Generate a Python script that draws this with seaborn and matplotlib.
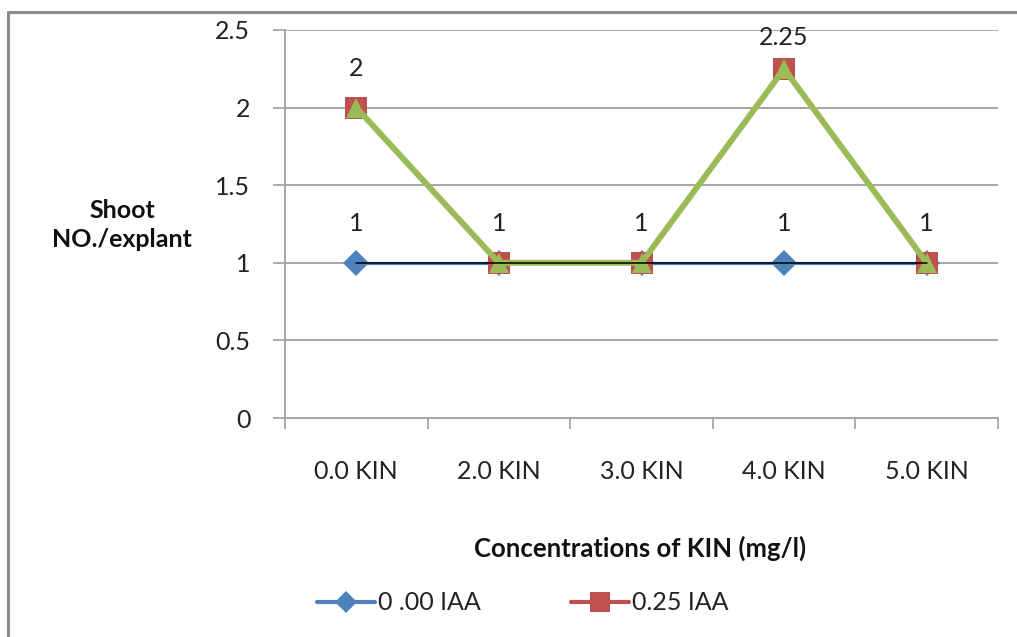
import matplotlib
matplotlib.use("Agg")
import matplotlib.pyplot as plt
import seaborn as sns
import pandas as pd
import numpy as np
from matplotlib.lines import Line2D

categories = ["0.0 KIN", "2.0 KIN", "3.0 KIN", "4.0 KIN", "5.0 KIN"]
iaa_000 = [1, 1, 1, 1, 1]
iaa_025 = [2, 1, 1, 2.25, 1]
overlay = [2, 1, 1, 2.25, 1]
baseline = [1, 1, 1, 1, 1]
y_ticks = [0, 0.5, 1, 1.5, 2, 2.5]
y_tick_labels = ["0", "0.5", "1", "1.5", "2", "2.5"]
series_names = ["0 .00 IAA", "0.25 IAA"]

BLUE = "#4F81BD"
RED = "#C0504D"
GREEN = "#9BBB59"
GRID = "#A6A6A6"
TXT = "#222222"
FS = 18

sns.set_theme(style="white")
plt.rcParams["font.family"] = ["Lato", "DejaVu Sans"]

df = pd.DataFrame({"cat": categories, "a": iaa_000, "b": iaa_025,
                   "g": overlay, "k": baseline})

fig = plt.figure(figsize=(10.17, 6.37), dpi=100)
ax = fig.add_axes([285 / 1017, 1 - 418 / 637, (998 - 285) / 1017, (418 - 30) / 637])

sns.lineplot(data=df, x="cat", y="a", ax=ax, color=BLUE, lw=2.3, marker="D",
             markersize=13, markeredgewidth=0, sort=False, zorder=2, legend=False)
sns.lineplot(data=df, x="cat", y="b", ax=ax, color=RED, lw=3, marker="s",
             markersize=16, markeredgewidth=0, sort=False, zorder=3, legend=False)
sns.lineplot(data=df, x="cat", y="g", ax=ax, color=GREEN, lw=4.3, marker="^",
             markersize=14, markeredgewidth=0, sort=False, zorder=4, legend=False)
sns.lineplot(data=df, x="cat", y="k", ax=ax, color="black", lw=1.1,
             sort=False, zorder=5, legend=False)

# data labels
for i, v in enumerate(iaa_025):
    ax.annotate(f"{v:g}", (i, min(v + 0.25, 2.45)), ha="center", va="center",
                fontsize=FS, color=TXT, annotation_clip=False)
for i, (va_, vb) in enumerate(zip(iaa_000, iaa_025)):
    if va_ != vb:
        ax.annotate(f"{va_:g}", (i, va_ + 0.25), ha="center", va="center",
                    fontsize=FS, color=TXT, annotation_clip=False)

n = len(categories)
ax.set_xlim(-0.5, n - 0.5)
ax.set_ylim(0, 2.5)
ax.set_yticks(y_ticks)
ax.set_yticklabels(y_tick_labels)
ax.set_xticks(range(n))
ax.set_xticklabels(categories)
ax.set_xticks(np.arange(-0.5, n, 1.0), minor=True)
ax.tick_params(axis="x", which="major", length=0, pad=30, labelsize=FS,
               labelcolor=TXT)
ax.tick_params(axis="x", which="minor", length=8, width=1.3, color=GRID,
               direction="out", bottom=True)
ax.tick_params(axis="y", which="major", length=9, width=1.3, color=GRID,
               direction="out", left=True, pad=16, labelsize=FS,
               labelcolor=TXT)

ax.grid(axis="y", color=GRID, lw=1.4)
ax.grid(axis="x", visible=False)
for s in ["top", "right"]:
    ax.spines[s].set_visible(False)
for s in ["left", "bottom"]:
    ax.spines[s].set_color(GRID)
    ax.spines[s].set_linewidth(1.4)
ax.set_axisbelow(True)

ax.set_xlabel("")
ax.set_ylabel("")
fig.text(122 / 1017, 1 - 225 / 637, "Shoot\nNO./explant", ha="center", va="center",
         fontsize=18, fontweight="bold", color="#111111", linespacing=1.3)
fig.text(640 / 1017, 1 - 548 / 637, "Concentrations of KIN (mg/l)", ha="center",
         va="center", fontsize=18.5, fontweight="bold", color="#111111")

handles = [
    Line2D([], [], color=BLUE, lw=3, marker="D", markersize=11, markeredgewidth=0),
    Line2D([], [], color=RED, lw=3, marker="s", markersize=14, markeredgewidth=0),
]
fig.legend(handles, series_names, loc="center", bbox_to_anchor=(523 / 1017, 1 - 603 / 637),
           ncol=2, frameon=False, fontsize=FS, handlelength=2.3, handletextpad=0.15,
           columnspacing=3.6, labelcolor=TXT)

# outer chart border (partially clipped in reference)
fig.add_artist(Line2D([8 / 1017, 1.0], [1 - 12 / 637, 1 - 12 / 637],
                      transform=fig.transFigure, color="#8C8C8C", lw=2.2))
fig.add_artist(Line2D([8 / 1017, 8 / 1017], [1 - 12 / 637, 0.0],
                      transform=fig.transFigure, color="#8C8C8C", lw=2.2))

fig.savefig("out.png", dpi=100, facecolor="white")
